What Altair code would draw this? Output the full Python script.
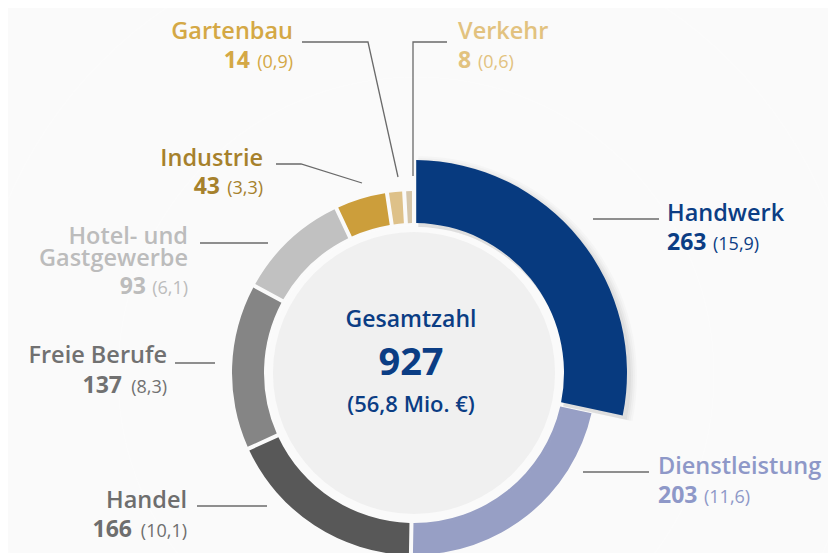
import math
import altair as alt
import pandas as pd

# ---------------- data ----------------
categories = ["Handwerk", "Dienstleistung", "Handel", "Freie Berufe",
              "Hotel- und Gastgewerbe", "Industrie", "Gartenbau", "Verkehr"]
display_lines = [["Handwerk"], ["Dienstleistung"], ["Handel"], ["Freie Berufe"],
                 ["Hotel- und", "Gastgewerbe"], ["Industrie"], ["Gartenbau"], ["Verkehr"]]
counts = [263, 203, 166, 137, 93, 43, 14, 8]
amounts = ["15,9", "11,6", "10,1", "8,3", "6,1", "3,3", "0,9", "0,6"]
total_title = "Gesamtzahl"
total_count = "927"
total_amount = "(56,8 Mio. €)"
emphasis = "Handwerk"

# ---------------- styles ----------------
slice_colors = ["#083C82", "#9BA3C9", "#5A5A5A", "#888888",
                "#C5C5C5", "#D1A23D", "#E3C58C", "#DACAAE"]
label_colors = ["#0B3D84", "#8E98C8", "#6E6E6E", "#717171",
                "#BCBCBC", "#A6812C", "#D4A845", "#E2C27F"]
FONT = "Open Sans"
NAME_SIZE = 23.5
NUM_SIZE = 23
PAREN_SIZE = 18
LINE_COLOR = "#6A6A6A"

# ---------------- layout (page pixels) ----------------
MARGIN = 8
CX, CY = 414 - MARGIN, 373 - MARGIN
R_INNER = 150
R_OUTER = 182
R_OUTER_EMPH = 213
R_CORE = 141
PAD_ANGLE = 0.017

label_layout = {
    "Handwerk":               dict(align="left",  name=(667, 221), line_gap=22, num=(667, 250), paren=(713, 250)),
    "Dienstleistung":         dict(align="left",  name=(658, 474), line_gap=22, num=(658, 503), paren=(704, 503)),
    "Handel":                 dict(align="right", name=(187, 508), line_gap=22, num=(132, 537), paren=(187, 537)),
    "Freie Berufe":           dict(align="right", name=(167, 363), line_gap=22, num=(122, 393), paren=(167, 393)),
    "Hotel- und Gastgewerbe": dict(align="right", name=(188, 244), line_gap=22, num=(146, 294), paren=(188, 294)),
    "Industrie":              dict(align="right", name=(263, 166), line_gap=22, num=(220, 194), paren=(263, 194)),
    "Gartenbau":              dict(align="right", name=(293, 39),  line_gap=22, num=(250, 68),  paren=(293, 68)),
    "Verkehr":                dict(align="left",  name=(458, 39),  line_gap=22, num=(458, 68),  paren=(478, 68)),
}
leader_layout = {
    "Handwerk":               [(593, 219), (659, 219)],
    "Dienstleistung":         [(583, 472), (649, 472)],
    "Handel":                 [(197, 506), (267, 506)],
    "Freie Berufe":           [(175, 363), (215, 363)],
    "Hotel- und Gastgewerbe": [(200, 243), (268, 243)],
    "Industrie":              [(276, 164), (301, 164), (362, 183)],
    "Gartenbau":              [(302, 42), (368, 42), (398, 177)],
    "Verkehr":                [(447, 42), (413, 42), (413, 176)],
}

# ---------------- tables ----------------
slices = pd.DataFrame({
    "category": categories,
    "count": counts,
    "idx": list(range(len(categories))),
})
slices["r_outer"] = [R_OUTER_EMPH if c == emphasis else R_OUTER for c in categories]
slices["emph"] = [1 if c == emphasis else 0 for c in categories]

text_rows = []
for cat, lines, cnt, amt, col in zip(categories, display_lines, counts, amounts, label_colors):
    lay = label_layout[cat]
    nx, ny = lay["name"]
    for i, ln in enumerate(lines):
        text_rows.append(dict(text=ln, x=nx - MARGIN, y=ny + i * lay["line_gap"] - MARGIN,
                              kind="name", align=lay["align"], color=col))
    text_rows.append(dict(text=str(cnt), x=lay["num"][0] - MARGIN, y=lay["num"][1] - MARGIN,
                          kind="num", align=lay["align"], color=col))
    text_rows.append(dict(text=f"({amt})", x=lay["paren"][0] - MARGIN, y=lay["paren"][1] - MARGIN,
                          kind="paren", align=lay["align"], color=col))
texts = pd.DataFrame(text_rows)

line_rows = []
for cat, pts in leader_layout.items():
    for s, (px, py) in enumerate(pts):
        line_rows.append(dict(id=cat, seq=s, x=px - MARGIN, y=py - MARGIN))
leaders = pd.DataFrame(line_rows)


def slice_base():
    """Angles computed from the counts by Vega-Lite transforms."""
    return (
        alt.Chart(slices)
        .transform_joinaggregate(total="sum(count)")
        .transform_window(cum="sum(count)", sort=[alt.SortField("idx", order="ascending")],
                          frame=[None, 0])
        .transform_calculate(
            t0="(datum.cum - datum.count) / datum.total * 2 * PI",
            t1="datum.cum / datum.total * 2 * PI",
        )
    )


# ---------------- charts ----------------
layers = []

# soft drop shadow of the emphasised slice
for dr, op in [(8, 0.02), (6, 0.025), (4, 0.03), (2, 0.035)]:
    layers.append(
        slice_base()
        .transform_filter(alt.datum.emph == 1)
        .transform_calculate(rr=f"datum.r_outer + {dr}")
        .mark_arc(innerRadius=R_INNER, color="black", opacity=op, padAngle=PAD_ANGLE)
        .encode(
            theta=alt.Theta("t0:Q", scale=None),
            theta2="t1:Q",
            radius=alt.Radius("rr:Q", scale=None),
            x=alt.value(CX + 2), y=alt.value(CY + 4),
        )
    )

layers.append(
    slice_base()
    .mark_arc(innerRadius=R_INNER, padAngle=PAD_ANGLE)
    .encode(
        theta=alt.Theta("t0:Q", scale=None),
        theta2="t1:Q",
        radius=alt.Radius("r_outer:Q", scale=None),
        color=alt.Color("category:N", scale=alt.Scale(domain=categories, range=slice_colors), legend=None),
        x=alt.value(CX), y=alt.value(CY),
    )
)

# shadow of the centre disc
shadow_df = pd.DataFrame({"r": [R_CORE + 9, R_CORE + 7, R_CORE + 5, R_CORE + 3, R_CORE + 1]})
layers.append(
    alt.Chart(shadow_df)
    .mark_arc(theta=0, theta2=2 * math.pi, color="black", opacity=0.02)
    .encode(radius=alt.Radius("r:Q", scale=None), x=alt.value(CX + 2), y=alt.value(CY + 2))
)
core_df = pd.DataFrame({"r": [R_CORE]})
layers.append(
    alt.Chart(core_df)
    .mark_arc(theta=0, theta2=2 * math.pi, color="#F0F0F0")
    .encode(radius=alt.Radius("r:Q", scale=None), x=alt.value(CX), y=alt.value(CY))
)

# leader lines
layers.append(
    alt.Chart(leaders)
    .mark_line(color=LINE_COLOR, strokeWidth=1.3)
    .encode(
        x=alt.X("x:Q", scale=None, axis=None),
        y=alt.Y("y:Q", scale=None, axis=None),
        detail="id:N",
        order="seq:Q",
    )
)

# labels
styles = {
    "name": dict(fontSize=NAME_SIZE, fontWeight=600),
    "num": dict(fontSize=NUM_SIZE, fontWeight=700),
    "paren": dict(fontSize=PAREN_SIZE, fontWeight=400),
}
for kind, st in styles.items():
    for al in ["left", "right"]:
        layers.append(
            alt.Chart(texts)
            .transform_filter((alt.datum.kind == kind) & (alt.datum.align == al))
            .mark_text(align=al, baseline="alphabetic", font=FONT, **st)
            .encode(
                x=alt.X("x:Q", scale=None, axis=None),
                y=alt.Y("y:Q", scale=None, axis=None),
                text="text:N",
                color=alt.Color("color:N", scale=None),
            )
        )

# centre texts
one = pd.DataFrame({"a": [0]})
TEXT_CX = 411 - MARGIN
for txt, yy, size, weight in [(total_title, 327, 23, 600), (total_count, 375, 38, 700), (total_amount, 412, 22, 600)]:
    layers.append(
        alt.Chart(one)
        .mark_text(align="center", baseline="alphabetic", font=FONT, fontSize=size,
                   fontWeight=weight, color="#0B3D84")
        .encode(x=alt.value(TEXT_CX), y=alt.value(yy - MARGIN), text=alt.value(txt))
    )

chart = (
    alt.layer(*layers)
    .properties(width=820, height=620, padding=0, autosize=alt.AutoSizeParams(type="none"),
                background="white")
    .configure_view(stroke=None)
)

chart.save("out.html", embed_options={"renderer": "svg", "actions": False})
